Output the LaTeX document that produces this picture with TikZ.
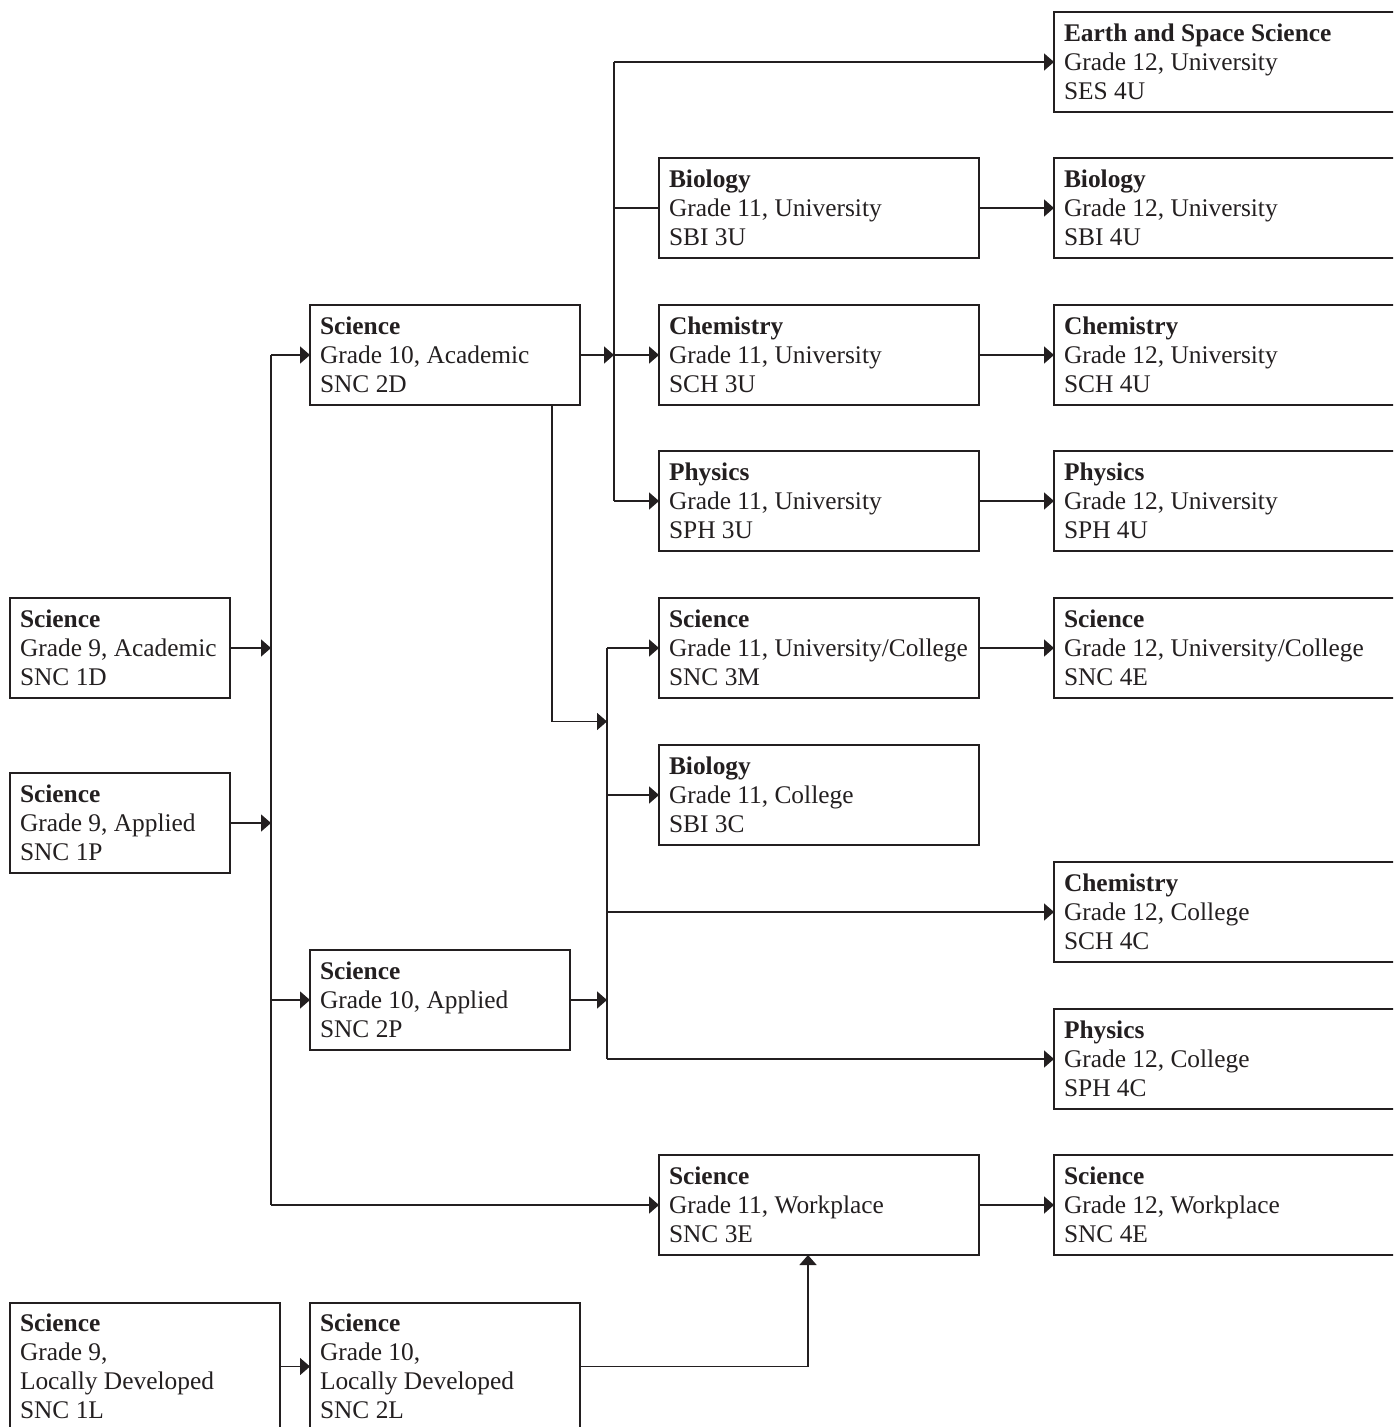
\documentclass[tikz,border=0pt]{standalone}
\usepackage{fontspec}
\setmainfont{Liberation Serif}
\usepackage{tikz}
\usetikzlibrary{calc,positioning,arrows.meta}
\definecolor{ink}{HTML}{231F20}
\hyphenpenalty=10000
\exhyphenpenalty=10000
\tikzset{
  course/.style={rectangle, draw=ink, line width=0.8pt, outer sep=0pt, align=flush left, inner xsep=5pt, inner ysep=0pt, minimum height=50pt, font=\fontsize{12.7}{14.5}\selectfont, text=ink},
  local/.style={course, minimum height=63.5pt},
  link/.style={draw=ink, line width=0.8pt},
  >={Triangle[length=5pt,width=8.5pt]}
}
\begin{document}
\begin{tikzpicture}
\clip (0,0) rectangle (696.5pt,-713.5pt);
\node [course, text width=165pt, anchor=north west] (ses12) at (527pt,-6pt) {\textbf{Earth and Space Science}\\Grade 12, University\\SES 4U};
\node [course, text width=165pt, below=23pt of ses12] (bio12) {\textbf{Biology}\\Grade 12, University\\SBI 4U};
\node [course, text width=165pt, below=23.5pt of bio12] (chem12) {\textbf{Chemistry}\\Grade 12, University\\SCH 4U};
\node [course, text width=165pt, below=23pt of chem12] (phys12) {\textbf{Physics}\\Grade 12, University\\SPH 4U};
\node [course, text width=165pt, below=23.5pt of phys12] (sci12uc) {\textbf{Science}\\Grade 12, University/College\\SNC 4E};
\node [course, text width=165pt, below=82pt of sci12uc] (chem12c) {\textbf{Chemistry}\\Grade 12, College\\SCH 4C};
\node [course, text width=165pt, below=23.5pt of chem12c] (phys12c) {\textbf{Physics}\\Grade 12, College\\SPH 4C};
\node [course, text width=165pt, below=23pt of phys12c] (sci12w) {\textbf{Science}\\Grade 12, Workplace\\SNC 4E};
\node [course, text width=150pt, left=37.5pt of bio12] (bio11) {\textbf{Biology}\\Grade 11, University\\SBI 3U};
\node [course, text width=150pt, left=37.5pt of chem12] (chem11) {\textbf{Chemistry}\\Grade 11, University\\SCH 3U};
\node [course, text width=150pt, left=37.5pt of phys12] (phys11) {\textbf{Physics}\\Grade 11, University\\SPH 3U};
\node [course, text width=150pt, left=37.5pt of sci12uc] (sci11uc) {\textbf{Science}\\Grade 11, University/College\\SNC 3M};
\node [course, text width=150pt, below=23.5pt of sci11uc] (bio11c) {\textbf{Biology}\\Grade 11, College\\SBI 3C};
\node [course, text width=150pt, left=37.5pt of sci12w] (sci11w) {\textbf{Science}\\Grade 11, Workplace\\SNC 3E};
\node [course, text width=125pt, left=39.5pt of chem11] (sci10a) {\textbf{Science}\\Grade 10, Academic\\SNC 2D};
\node [course, text width=120pt, below=272.5pt of sci10a.south west, anchor=north west] (sci10p) {\textbf{Science}\\Grade 10, Applied\\SNC 2P};
\node [local, text width=125pt, below=126.5pt of sci10p.south west, anchor=north west] (sci10l) {\textbf{Science}\\Grade 10,\\Locally Developed\\SNC 2L};
\node [local, text width=125pt, left=15pt of sci10l] (sci9l) {\textbf{Science}\\Grade 9,\\Locally Developed\\SNC 1L};
\node [course, text width=100pt, left=214.5pt of sci11uc] (sci9a) {\textbf{Science}\\Grade 9, Academic\\SNC 1D};
\node [course, text width=100pt, below=37.5pt of sci9a] (sci9p) {\textbf{Science}\\Grade 9, Applied\\SNC 1P};
\coordinate (j9) at ($(sci9a.east)+(20.5pt,0)$);
\coordinate (j10a) at ($(sci10a.east)+(17pt,0)$);
\coordinate (j10p) at ($(sci10p.east)+(18.5pt,0)$);
\coordinate (d10a) at ($(sci10a.south east)+(-14pt,0)$);
\coordinate (m11) at ($(sci11uc.south)!.5!(bio11c.north)$);
\coordinate (u11w) at ($(sci11w.south)+(-5.5pt,0)$);
\draw [link, ->] (sci9a.east) -- (j9);
\draw [link, ->] (sci9p.east) -- (sci9p.east -| j9);
\draw [link] (j9 |- sci10a.west) -- (j9 |- sci11w.west);
\draw [link, ->] (j9 |- sci10a.west) -- (sci10a.west);
\draw [link, ->] (j9 |- sci10p.west) -- (sci10p.west);
\draw [link, ->] (j9 |- sci11w.west) -- (sci11w.west);
\draw [link, ->] (sci10a.east) -- (j10a);
\draw [link] (j10a |- ses12.west) -- (j10a |- phys11.west);
\draw [link, ->] (j10a |- ses12.west) -- (ses12.west);
\draw [link] (j10a |- bio11.west) -- (bio11.west);
\draw [link, ->] (j10a) -- (chem11.west);
\draw [link, ->] (j10a |- phys11.west) -- (phys11.west);
\draw [link, ->] (d10a) |- (j10p |- m11);
\draw [link, ->] (sci10p.east) -- (j10p);
\draw [link] (j10p |- sci11uc.west) -- (j10p |- phys12c.west);
\draw [link, ->] (j10p |- sci11uc.west) -- (sci11uc.west);
\draw [link, ->] (j10p |- bio11c.west) -- (bio11c.west);
\draw [link, ->] (j10p |- chem12c.west) -- (chem12c.west);
\draw [link, ->] (j10p |- phys12c.west) -- (phys12c.west);
\draw [link, ->] (bio11.east) -- (bio12.west);
\draw [link, ->] (chem11.east) -- (chem12.west);
\draw [link, ->] (phys11.east) -- (phys12.west);
\draw [link, ->] (sci11uc.east) -- (sci12uc.west);
\draw [link, ->] (sci11w.east) -- (sci12w.west);
\draw [link, ->] (sci9l.east) -- (sci10l.west);
\draw [link, ->] (sci10l.east) -| (u11w);
\end{tikzpicture}
\end{document}
